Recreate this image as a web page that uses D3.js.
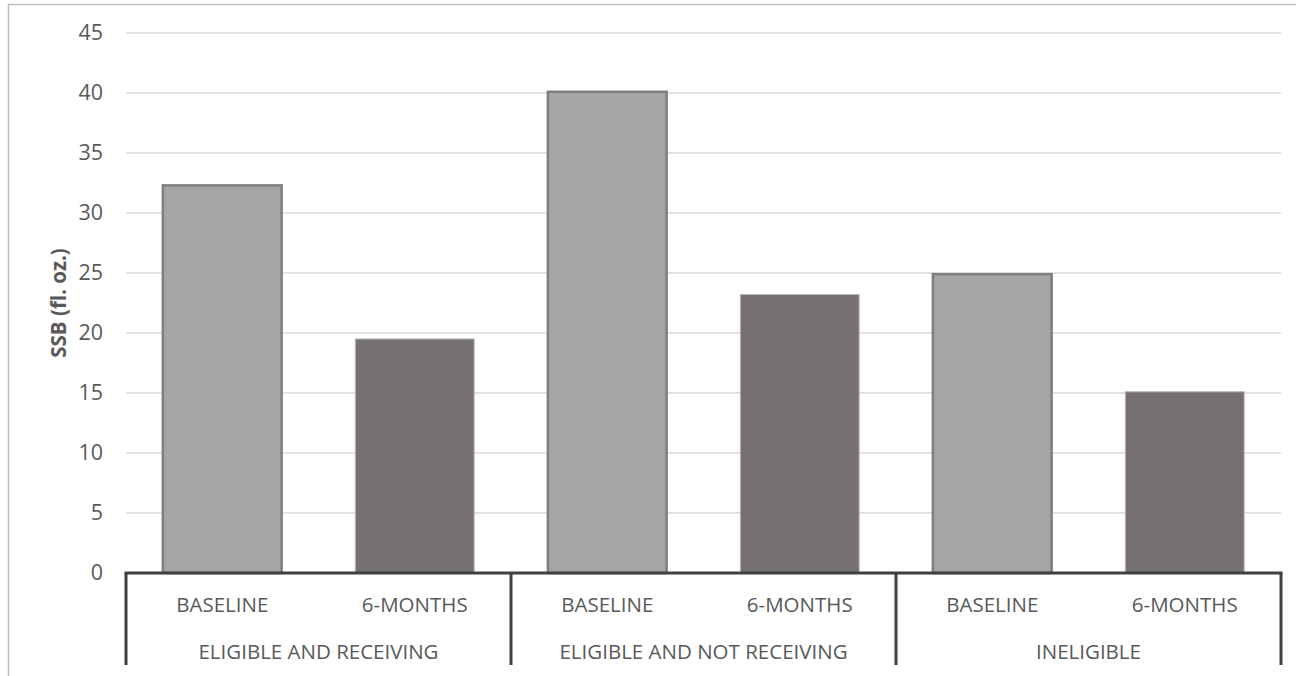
<!DOCTYPE html>
<html>
<head>
<meta charset="utf-8">
<script src="https://cdn.jsdelivr.net/npm/d3@7/dist/d3.min.js"></script>
<style>
  html, body { margin: 0; padding: 0; background: #fff; }
  svg { display: block; }
  text { font-family: "Open Sans", "Noto Sans", sans-serif; fill: #595959; }
</style>
</head>
<body>
<svg id="chart" width="1296" height="676"></svg>
<script>
// Sugar-sweetened beverage intake by group and time point
const groups = ["ELIGIBLE AND RECEIVING", "ELIGIBLE AND NOT RECEIVING", "INELIGIBLE"];
const timepoints = ["BASELINE", "6-MONTHS"];
const baselineValues = [32.3, 40.1, 24.9];
const sixMonthValues = [19.5, 23.2, 15.1];
const yTicks = [0, 5, 10, 15, 20, 25, 30, 35, 40, 45];
const yTitle = "SSB (fl. oz.)";

const rows = groups.map((g, i) => ({
  group: g,
  bars: [
    { time: timepoints[0], value: baselineValues[i] },
    { time: timepoints[1], value: sixMonthValues[i] }
  ]
}));

const svg = d3.select("#chart");
const plotLeft = 126, plotRight = 1281, plotTop = 33, plotBottom = 573;

// outer chart border
svg.append("rect")
  .attr("x", 8.5).attr("y", 4.5)
  .attr("width", 1300).attr("height", 700)
  .attr("fill", "none").attr("stroke", "#bfbfbf").attr("stroke-width", 1.5);

const y = d3.scaleLinear().domain([0, 45]).range([plotBottom, plotTop]);
const xGroup = d3.scaleBand().domain(groups).range([plotLeft, plotRight]).paddingInner(0).paddingOuter(0);
const xTime = d3.scaleBand().domain(timepoints).range([0, xGroup.bandwidth()]).paddingInner(0.383).paddingOuter(0.1915);

// gridlines
svg.append("g")
  .selectAll("line")
  .data(yTicks.filter(t => t > 0))
  .join("line")
  .attr("x1", plotLeft).attr("x2", plotRight)
  .attr("y1", d => y(d)).attr("y2", d => y(d))
  .attr("stroke", "#d9d9d9").attr("stroke-width", 1.5);

// y tick labels
const yAxis = d3.axisLeft(y).tickValues(yTicks).tickSize(0).tickPadding(0);
const yAxisG = svg.append("g").attr("transform", `translate(103,0)`).call(yAxis);
yAxisG.select(".domain").remove();
yAxisG.selectAll("text")
  .attr("x", 0)
  .style("font-family", '"Open Sans", "Noto Sans", sans-serif')
  .style("font-size", "21.5px")
  .attr("fill", "#595959");

// y axis title
svg.append("text")
  .attr("transform", `translate(58,${(plotTop + plotBottom) / 2}) rotate(-90)`)
  .attr("text-anchor", "middle")
  .attr("dominant-baseline", "central")
  .style("font-size", "20.5px")
  .style("font-weight", "bold")
  .text(yTitle);

// bars
const barStyles = {
  "BASELINE": { fill: "#a5a5a5", stroke: "#7f7f7f", sw: 2.5 },
  "6-MONTHS": { fill: "#767171", stroke: "#b4b2b2", sw: 1 }
};
const gGroups = svg.append("g").selectAll("g")
  .data(rows)
  .join("g")
  .attr("transform", d => `translate(${xGroup(d.group)},0)`);

gGroups.selectAll("rect")
  .data(d => d.bars)
  .join("rect")
  .attr("x", d => xTime(d.time))
  .attr("y", d => y(d.value))
  .attr("width", xTime.bandwidth())
  .attr("height", d => y(0) - y(d.value))
  .attr("fill", d => barStyles[d.time].fill)
  .attr("stroke", d => barStyles[d.time].stroke)
  .attr("stroke-width", d => barStyles[d.time].sw);

// time point labels
gGroups.selectAll("text.time")
  .data(d => d.bars)
  .join("text")
  .attr("class", "time")
  .attr("x", d => xTime(d.time) + xTime.bandwidth() / 2)
  .attr("y", 604)
  .attr("text-anchor", "middle")
  .attr("dominant-baseline", "central")
  .style("font-size", "20.5px")
  .text(d => d.time);

// group labels
gGroups.append("text")
  .attr("x", xGroup.bandwidth() / 2)
  .attr("y", 651)
  .attr("text-anchor", "middle")
  .attr("dominant-baseline", "central")
  .style("font-size", "20.5px")
  .text(d => d.group);

// category axis: baseline and group separators
const axisColor = "#404040";
svg.append("line")
  .attr("x1", plotLeft - 1.5).attr("x2", plotRight + 1.5)
  .attr("y1", plotBottom).attr("y2", plotBottom)
  .attr("stroke", axisColor).attr("stroke-width", 3);

const seps = groups.map(g => xGroup(g)).concat([plotRight]);
svg.append("g").selectAll("line")
  .data(seps)
  .join("line")
  .attr("x1", d => d).attr("x2", d => d)
  .attr("y1", plotBottom).attr("y2", 665)
  .attr("stroke", axisColor).attr("stroke-width", 3);
</script>
</body>
</html>
